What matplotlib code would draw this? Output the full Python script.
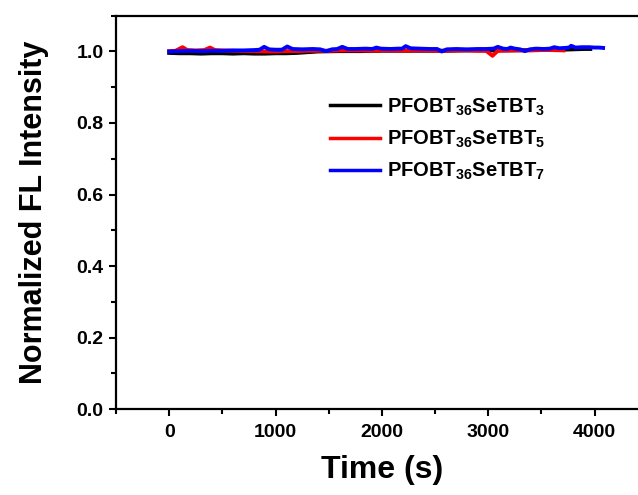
import matplotlib
matplotlib.use("Agg")
import matplotlib.pyplot as plt
from matplotlib.ticker import MultipleLocator

plt.rcParams['font.family'] = ['Liberation Sans', 'DejaVu Sans']
plt.rcParams['font.weight'] = 'bold'
plt.rcParams['mathtext.fontset'] = 'custom'
plt.rcParams['mathtext.rm'] = 'Liberation Sans:bold'
plt.rcParams['mathtext.it'] = 'Liberation Sans:bold'
plt.rcParams['mathtext.bf'] = 'Liberation Sans:bold'
plt.rcParams['mathtext.default'] = 'rm'

# ---- data ----
labels = ['PFOBT$_{36}$SeTBT$_3$', 'PFOBT$_{36}$SeTBT$_5$', 'PFOBT$_{36}$SeTBT$_7$']
colors = ['black', 'red', 'blue']

t_black = [0, 100, 200, 300, 400, 500, 600, 700, 800, 900, 1000, 1100, 1200, 1300,
           1400, 1600, 1800, 2000, 2200, 2400, 2600, 2800, 3000, 3200, 3400, 3600,
           3700, 3800, 3900, 3960]
v_black = [0.996, 0.995, 0.995, 0.994, 0.995, 0.995, 0.994, 0.995, 0.994, 0.994,
           0.995, 0.995, 0.996, 0.998, 1.000, 1.001, 1.001, 1.002, 1.002, 1.002,
           1.002, 1.003, 1.003, 1.003, 1.004, 1.004, 1.005, 1.006, 1.007, 1.007]

t_red = [0, 60, 126, 170, 250, 330, 384, 430, 500, 600, 700, 800, 900, 1000, 1100,
         1200, 1300, 1400, 1500, 1600, 1700, 1800, 1900, 2000, 2100, 2200, 2300,
         2400, 2500, 2600, 2700, 2800, 2900, 2980, 3040, 3090, 3200, 3300, 3400,
         3500, 3600, 3707]
v_red = [1.001, 1.002, 1.012, 1.004, 1.003, 1.004, 1.011, 1.004, 1.003, 1.002,
         1.001, 1.001, 1.000, 1.000, 1.001, 1.001, 1.002, 1.002, 1.002, 1.003,
         1.003, 1.003, 1.002, 1.003, 1.003, 1.002, 1.003, 1.003, 1.002, 1.002,
         1.003, 1.003, 1.002, 1.002, 0.988, 1.002, 1.003, 1.003, 1.003, 1.004,
         1.004, 1.003]

t_blue = [0, 100, 200, 300, 400, 500, 600, 700, 800, 850, 893, 940, 1000, 1060,
          1110, 1160, 1250, 1350, 1420, 1475, 1530, 1580, 1627, 1680, 1750, 1850,
          1910, 1948, 1990, 2080, 2150, 2190, 2224, 2270, 2350, 2450, 2520, 2563,
          2610, 2700, 2800, 2900, 2980, 3050, 3090, 3140, 3180, 3210, 3250, 3300,
          3345, 3390, 3450, 3520, 3580, 3620, 3670, 3720, 3760, 3780, 3820, 3880,
          3950, 4000, 4040, 4080]
v_blue = [1.000, 1.001, 1.002, 1.001, 1.002, 1.002, 1.003, 1.003, 1.004, 1.005,
          1.013, 1.006, 1.005, 1.005, 1.014, 1.007, 1.006, 1.007, 1.006, 1.001,
          1.006, 1.007, 1.013, 1.007, 1.007, 1.008, 1.007, 1.011, 1.008, 1.007,
          1.008, 1.008, 1.015, 1.009, 1.008, 1.007, 1.007, 1.000, 1.006, 1.007,
          1.006, 1.007, 1.007, 1.008, 1.013, 1.008, 1.007, 1.011, 1.008, 1.006,
          1.001, 1.006, 1.008, 1.007, 1.008, 1.012, 1.009, 1.010, 1.011, 1.016,
          1.011, 1.012, 1.012, 1.011, 1.011, 1.010]

x_ticks = [0, 1000, 2000, 3000, 4000]
y_ticks = [0.0, 0.2, 0.4, 0.6, 0.8, 1.0]

fig = plt.figure(figsize=(6.38, 4.95), dpi=100)
ax = fig.add_axes([0.1818, 0.1737, 0.8335, 0.7945])

series = [(t_black, v_black), (t_red, v_red), (t_blue, v_blue)]
for (t, v), c, lab in zip(series, colors, labels):
    ax.plot(t, v, color=c, lw=2.8, label=lab, solid_joinstyle='round')

ax.set_xlim(-500, 4500)
ax.set_ylim(0, 1.1)
ax.set_xticks(x_ticks)
ax.set_yticks(y_ticks)
ax.set_yticklabels([f'{y:.1f}' for y in y_ticks])
ax.xaxis.set_minor_locator(MultipleLocator(500))
ax.yaxis.set_minor_locator(MultipleLocator(0.1))
ax.tick_params(which='major', direction='out', length=5, width=1.5, labelsize=14, pad=4)
ax.tick_params(which='minor', direction='out', length=3.5, width=1.5)
ax.tick_params(axis='x', pad=6)
for sp in ax.spines.values():
    sp.set_linewidth(1.6)
ax.spines['right'].set_visible(False)

ax.set_xlabel('Time (s)', fontsize=23, fontweight='bold', labelpad=10)
ax.set_ylabel('Normalized FL Intensity', fontsize=22, fontweight='bold', labelpad=20)

leg = ax.legend(loc='upper left', bbox_to_anchor=(0.402, 0.795), frameon=False,
                fontsize=14.5, handlelength=2.5, handletextpad=0.35,
                labelspacing=0.55, borderpad=0, borderaxespad=0)
for line in leg.get_lines():
    line.set_linewidth(2.5)

fig.savefig('out.png', dpi=100)
